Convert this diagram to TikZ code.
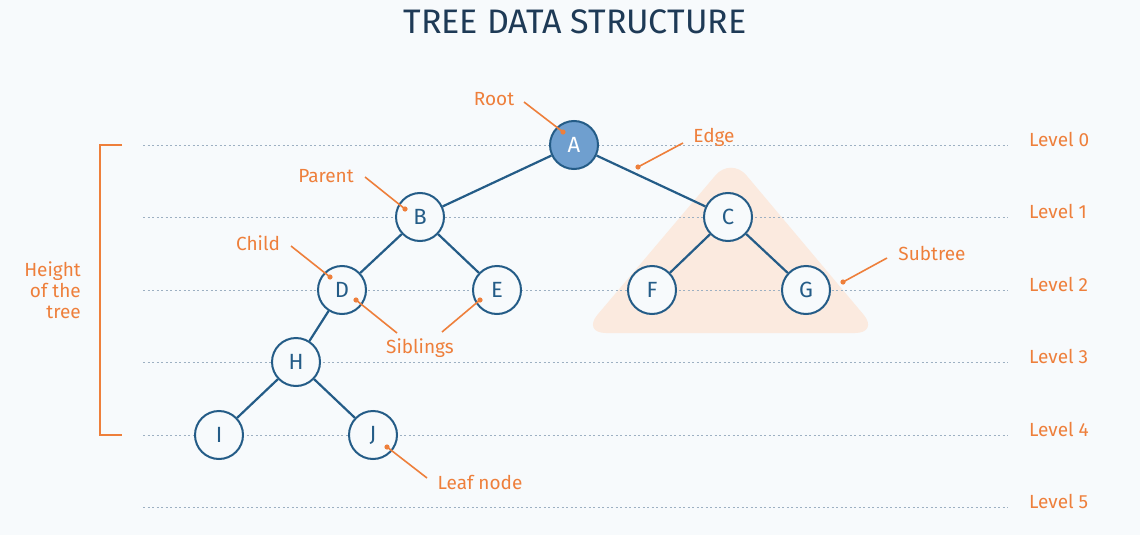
\documentclass[tikz,border=0pt]{standalone}
\usepackage{fontspec}
\setmainfont{Fira Sans}
\definecolor{bg}{HTML}{F7FAFC}
\definecolor{navy}{HTML}{245C87}
\definecolor{titlec}{HTML}{1E3A56}
\definecolor{orng}{HTML}{EE7F3B}
\definecolor{dotc}{HTML}{9DB0C2}
\definecolor{peach}{HTML}{FBEADF}
\definecolor{afill}{HTML}{6F9FCF}
\begin{document}
\begin{tikzpicture}[x=1pt,y=-1pt,
  tnode/.style={circle, draw=navy, line width=2pt, fill=bg, minimum size=48pt, inner sep=0pt,
    font=\fontsize{22}{24}\selectfont, text=navy},
  rootnode/.style={tnode, fill=afill, text=white},
  edge/.style={draw=navy, line width=2.2pt},
  lvl/.style={draw=dotc, line width=1pt, dash pattern=on 2pt off 2.5pt},
  lbl/.style={text=orng, font=\fontsize{19}{21}\selectfont, inner sep=0pt},
  ptr/.style={draw=orng, line width=1.6pt},
  tip/.style={fill=orng}
]
\useasboundingbox (0,0) rectangle (1140,535);
\fill[bg] (0,0) rectangle (1140,535);

% title
\node[text=titlec, font=\fontsize{34}{36}\selectfont] (title) at (575,22) {TREE DATA STRUCTURE};

% subtree highlight
\fill[peach, rounded corners=24pt] (731,157) -- (879,333) -- (582,333) -- cycle;

% level lines
\foreach \y [count=\i from 0] in {145,217,290,362,435,507}{
  \draw[lvl] (143,\y) -- (1008,\y);
  \node[lbl, anchor=west] (lv\i) at (1029,\y-6) {Level \i};
}

% height bracket
\draw[orng, line width=2pt] (122,145) -- (100,145) -- (100,435) -- (122,435);
\node[lbl, align=right, anchor=east, font=\fontsize{19}{21}\selectfont] (height) at (81,290) {Height\\of the\\tree};

% tree nodes
\node[rootnode] (A) at (574,145) {A};
\node[tnode] (B) at (420,217) {B};
\node[tnode] (C) at (728,217) {C};
\node[tnode] (D) at (342,290) {D};
\node[tnode] (E) at (497,290) {E};
\node[tnode] (F) at (652,290) {F};
\node[tnode] (G) at (806,290) {G};
\node[tnode] (H) at (296,362) {H};
\node[tnode] (I) at (219,435) {I};
\node[tnode] (J) at (373,435) {J};

% edges
\draw[edge] (A) -- (B);
\draw[edge] (A) -- (C);
\draw[edge] (B) -- (D);
\draw[edge] (B) -- (E);
\draw[edge] (C) -- (F);
\draw[edge] (C) -- (G);
\draw[edge] (D) -- (H);
\draw[edge] (H) -- (I);
\draw[edge] (H) -- (J);

% annotation labels
\node[lbl] (root) at (494,99) {Root};
\node[lbl] (edgel) at (714,137) {Edge};
\node[lbl] (parent) at (326,176) {Parent};
\node[lbl] (child) at (258,243) {Child};
\node[lbl] (sib) at (420,348) {Siblings};
\node[lbl] (leaf) at (480,482) {Leaf node};
\node[lbl] (sub) at (932,253) {Subtree};

% annotation pointers
\coordinate (rootS) at (524,102);   \coordinate (rootE) at (563,132);
\coordinate (edgeS) at (683,143);   \coordinate (edgeE) at (638,167);
\coordinate (parS) at (365,177);    \coordinate (parE) at (405,209);
\coordinate (chS) at (291,246);     \coordinate (chE) at (330,277);
\coordinate (sibDS) at (397,333);   \coordinate (sibDE) at (356,300);
\coordinate (sibES) at (442,332);   \coordinate (sibEE) at (480,300);
\coordinate (leafS) at (427,478);   \coordinate (leafE) at (387,447);
\coordinate (subS) at (887,258);    \coordinate (subE) at (843,282);

\foreach \s/\e in {rootS/rootE, edgeS/edgeE, parS/parE, chS/chE, sibDS/sibDE, sibES/sibEE, leafS/leafE, subS/subE}{
  \draw[ptr] (\s) -- (\e);
  \fill[tip] (\e) circle (2.6pt);
}
\end{tikzpicture}
\end{document}
